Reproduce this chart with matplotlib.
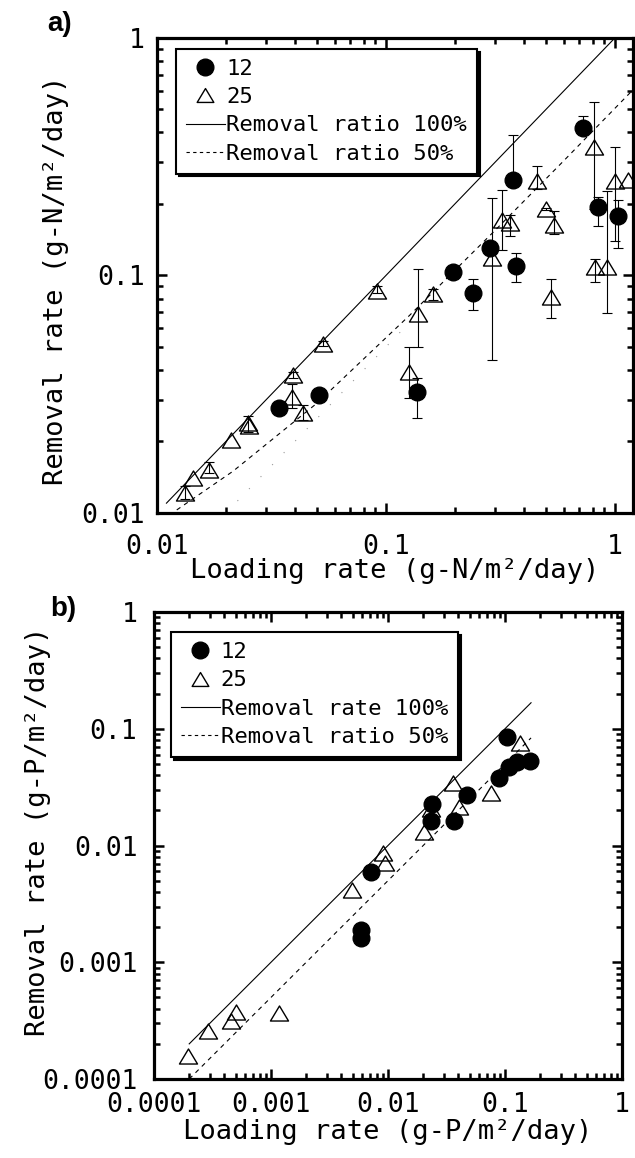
import matplotlib
matplotlib.use("Agg")
import matplotlib.pyplot as plt
import numpy as np
from matplotlib.path import Path
from matplotlib.lines import Line2D
from matplotlib.ticker import FixedLocator, FixedFormatter, LogLocator, NullFormatter

# ---------------- Panel a) nitrogen ----------------
a_c_x = [0.0342, 0.0511, 0.137, 0.1954, 0.239, 0.2844, 0.3575, 0.3684, 0.727, 0.8455, 1.034]
a_c_y = [0.0276, 0.0314, 0.0324, 0.1038, 0.0841, 0.130, 0.2523, 0.110, 0.417, 0.195, 0.178]
a_c_lo = [0.0276, 0.0314, 0.0251, 0.1038, 0.0718, 0.130, 0.2523, 0.0943, 0.417, 0.162, 0.130]
a_c_hi = [0.0276, 0.0314, 0.0369, 0.1038, 0.0966, 0.130, 0.390, 0.124, 0.471, 0.2145, 0.208]

a_t_x = [0.01325, 0.0144, 0.01687, 0.0211, 0.0250, 0.0252, 0.0391, 0.0388, 0.0433, 0.0529,
         0.0916, 0.1384, 0.1265, 0.160, 0.291, 0.322, 0.350, 0.455, 0.4995, 0.5416,
         0.524, 0.812, 0.823, 0.920, 1.0, 1.143]
a_t_y = [0.0121, 0.0140, 0.0152, 0.0203, 0.0240, 0.0233, 0.0381, 0.0309, 0.0263, 0.0515,
         0.0863, 0.0689, 0.0394, 0.0836, 0.118, 0.171, 0.166, 0.2507, 0.190, 0.163,
         0.0814, 0.3487, 0.109, 0.109, 0.2507, 0.2523]
a_t_lo = [0.0115, 0.0140, 0.0147, 0.0203, 0.0219, 0.0233, 0.0370, 0.0276, 0.0246, 0.0505,
          0.0845, 0.0499, 0.0304, 0.0790, 0.0442, 0.128, 0.147, 0.231, 0.188, 0.150,
          0.0662, 0.19, 0.094, 0.0693, 0.140, 0.2523]
a_t_hi = [0.0130, 0.0140, 0.0164, 0.0203, 0.0255, 0.0233, 0.0392, 0.0348, 0.0286, 0.0530,
          0.090, 0.107, 0.0498, 0.0873, 0.211, 0.229, 0.180, 0.289, 0.193, 0.186,
          0.0966, 0.539, 0.117, 0.227, 0.349, 0.2523]

a_line100_x = [0.011, 1.2]
a_line100_y = [0.011, 1.2]
a_line50_x = [0.0122, 0.0215, 0.05, 0.127, 0.3, 0.6, 1.2]
a_line50_y = [0.0103, 0.0150, 0.029, 0.068, 0.155, 0.305, 0.605]
a_dot_x = [0.02, 0.12]
a_dot_y = [0.01, 0.06]

# ---------------- Panel b) phosphorus ----------------
b_c_x = [0.00711, 0.00592, 0.00592, 0.0240, 0.0232, 0.0469, 0.0367, 0.0885, 0.104, 0.108, 0.127, 0.165]
b_c_y = [0.00596, 0.00189, 0.0016, 0.0226, 0.01626, 0.0270, 0.0162, 0.0375, 0.0842, 0.0472, 0.0521, 0.0528]

b_t_x = [0.000195, 0.000288, 0.000451, 0.000498, 0.00117, 0.00492, 0.00906, 0.00937,
         0.0233, 0.0202, 0.0356, 0.0405, 0.0766, 0.134]
b_t_y = [0.000157, 0.000258, 0.000314, 0.000377, 0.000365, 0.00415, 0.00855, 0.00703,
         0.0205, 0.01294, 0.0344, 0.0214, 0.0279, 0.0757]

b_line100_x = [0.0002, 0.167]
b_line100_y = [0.0002, 0.167]
b_line50_x = [0.0002, 0.167]
b_line50_y = [0.0001, 0.0835]

a_ticks = [0.01, 0.1, 1]
a_ticklabels = ["0.01", "0.1", "1"]
b_ticks = [0.0001, 0.001, 0.01, 0.1, 1]
b_ticklabels = ["0.0001", "0.001", "0.01", "0.1", "1"]

MONO = "DejaVu Sans Mono"
plt.rcParams["font.family"] = [MONO, "DejaVu Sans"]

fig = plt.figure(figsize=(6.35, 11.58), dpi=100)
axA = fig.add_axes([0.2472, 0.5570, 0.7496, 0.4102])
axB = fig.add_axes([0.2425, 0.0682, 0.737, 0.4033])

tri = Path([(-1, -0.833), (1, -0.833), (0, 0.833), (-1, -0.833)],
           [Path.MOVETO, Path.LINETO, Path.LINETO, Path.CLOSEPOLY])


def errbars(ax, x, y, lo, hi):
    x = np.asarray(x); y = np.asarray(y); lo = np.asarray(lo); hi = np.asarray(hi)
    m = hi > lo
    ax.errorbar(x[m], y[m], yerr=[y[m] - lo[m], hi[m] - y[m]], fmt="none",
                ecolor="k", elinewidth=0.8, capsize=3.5, capthick=0.8, zorder=2.5)


def style(ax, xlim, ylim, xt, xtl, yt, ytl, xpad, ypad):
    ax.set_xscale("log"); ax.set_yscale("log")
    ax.set_xlim(*xlim); ax.set_ylim(*ylim)
    for axis, t, tl in ((ax.xaxis, xt, xtl), (ax.yaxis, yt, ytl)):
        axis.set_major_locator(FixedLocator(t))
        axis.set_major_formatter(FixedFormatter(tl))
        axis.set_minor_locator(LogLocator(base=10, subs=np.arange(2, 10)))
        axis.set_minor_formatter(NullFormatter())
    ax.tick_params(which="both", direction="in", top=True, right=True, color="k", width=1.8)
    ax.tick_params(which="major", length=7, labelsize=19)
    ax.tick_params(which="minor", length=4.5)
    ax.tick_params(axis="x", which="major", pad=xpad)
    ax.tick_params(axis="y", which="major", pad=ypad)
    for s in ax.spines.values():
        s.set_linewidth(2.3)
        s.set_color("k")


def legend(ax, labels, anchor):
    h = [Line2D([], [], ls="none", marker="o", ms=12, color="k"),
         Line2D([], [], ls="none", marker=tri, ms=12, mfc="none", mec="k", mew=1.0),
         Line2D([], [], ls="-", color="k", lw=0.8),
         Line2D([], [], ls=(0, (3, 3)), color="k", lw=0.8)]
    leg = ax.legend(h, labels, loc="upper left", bbox_to_anchor=anchor, borderaxespad=0,
                    frameon=True, fancybox=False, edgecolor="k", framealpha=1,
                    shadow={"color": "k", "alpha": 1},
                    prop={"family": MONO, "size": 16}, handlelength=1.75,
                    handletextpad=0.05, labelspacing=0.37, borderpad=0.45)
    leg.get_frame().set_linewidth(1.5)
    leg.set_zorder(10)


# ----- panel a -----
axA.plot(a_line100_x, a_line100_y, color="k", lw=0.8, zorder=2)
axA.plot(a_line50_x, a_line50_y, color="k", lw=0.8, ls=(0, (4, 4)), zorder=2)
axA.plot(a_dot_x, a_dot_y, color="0.6", lw=0.8, ls=(0, (1, 14)), zorder=1.5)
errbars(axA, a_t_x, a_t_y, a_t_lo, a_t_hi)
errbars(axA, a_c_x, a_c_y, a_c_lo, a_c_hi)
axA.plot(a_t_x, a_t_y, ls="none", marker=tri, ms=13, mfc="none", mec="k", mew=1.0, zorder=3)
axA.plot(a_c_x, a_c_y, ls="none", marker="o", ms=12, color="k", zorder=4)
style(axA, (0.01, 1.2), (0.01, 1), a_ticks, a_ticklabels, a_ticks, a_ticklabels, 15, 9)
axA.set_xlabel("Loading rate (g-N/m²/day)", fontsize=19.5)
axA.set_ylabel("Removal rate (g-N/m²/day)", fontsize=19.5)
axA.xaxis.set_label_coords(0.5, -0.095)
axA.yaxis.set_label_coords(-0.185, 0.49)
legend(axA, ["12", "25", "Removal ratio 100%", "Removal ratio 50%"], (0.040, 0.977))

# ----- panel b -----
axB.plot(b_line100_x, b_line100_y, color="k", lw=0.8, zorder=2)
axB.plot(b_line50_x, b_line50_y, color="k", lw=0.8, ls=(0, (4, 4)), zorder=2)
axB.plot(b_t_x, b_t_y, ls="none", marker=tri, ms=13, mfc="none", mec="k", mew=1.0, zorder=3)
axB.plot(b_c_x, b_c_y, ls="none", marker="o", ms=12, color="k", zorder=4)
style(axB, (0.0001, 1), (0.0001, 1), b_ticks, b_ticklabels, b_ticks, b_ticklabels, 9, 12)
axB.set_xlabel("Loading rate (g-P/m²/day)", fontsize=19.5)
axB.set_ylabel("Removal rate (g-P/m²/day)", fontsize=19.5)
axB.xaxis.set_label_coords(0.5, -0.085)
axB.yaxis.set_label_coords(-0.22, 0.53)
legend(axB, ["12", "25", "Removal rate 100%", "Removal ratio 50%"], (0.036, 0.957))

fig.text(47 / 635, 1 - 11 / 1158, "a)", fontsize=20, fontweight="bold",
         family="Liberation Sans", ha="left", va="top")
fig.text(50 / 635, 1 - 596 / 1158, "b)", fontsize=20, fontweight="bold",
         family="Liberation Sans", ha="left", va="top")

fig.savefig("out.png", dpi=100)
